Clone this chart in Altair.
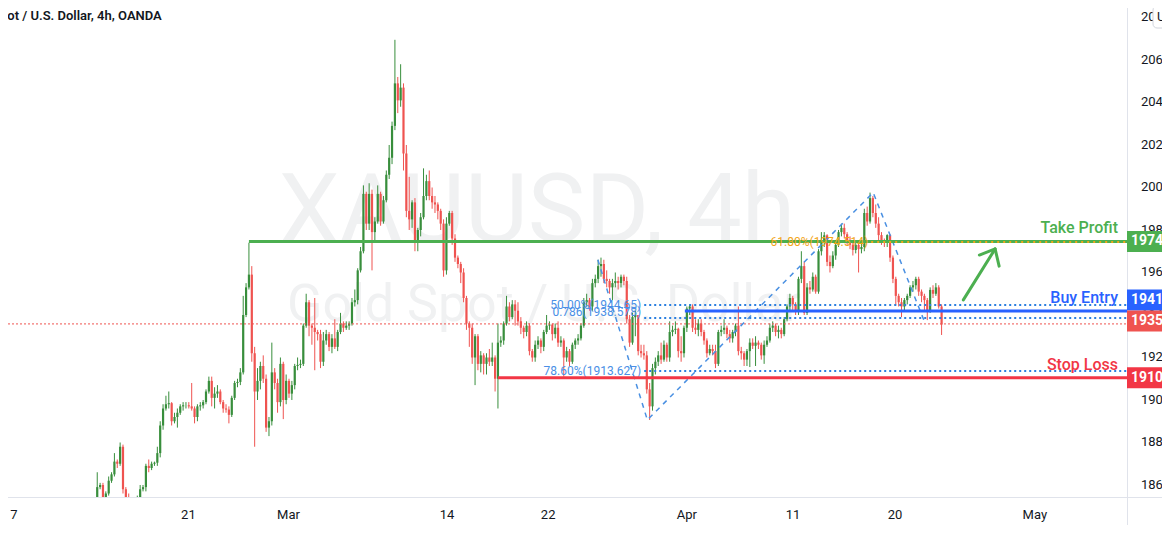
import altair as alt
import pandas as pd

# ---------------- data ----------------
first_open = 1852.0
closes = [
    1859, 1860, 1854, 1856, 1862, 1865, 1871, 1870, 1878, 1858,
    1853, 1850, 1846, 1848, 1852, 1858, 1859, 1869, 1868, 1870,
    1870.5, 1875, 1888, 1896, 1898, 1898.5, 1890, 1892, 1894, 1897,
    1897.5, 1897.5, 1897, 1896, 1892, 1897, 1897.5, 1899, 1904, 1909, 1901,
    1903, 1904, 1899, 1896, 1895.5, 1893, 1901, 1908, 1908.5, 1913,
    1940, 1953, 1959, 1922, 1904, 1909, 1916, 1910, 1887, 1890,
    1913, 1908, 1899, 1917, 1900, 1909, 1903, 1907, 1916, 1916.5, 1917,
    1935, 1946, 1935, 1934, 1932, 1931, 1918, 1928, 1931, 1925,
    1929, 1925, 1932, 1936, 1934, 1935, 1936, 1946, 1947, 1961, 1970,
    1997, 1983, 1997, 1979, 1984, 1997, 1984, 1994, 2006, 2014,
    2029, 2049, 2041, 2047, 2016, 1989, 1985, 1993, 1974, 1980,
    1986, 1996, 2003, 1996, 1993, 1992, 1989, 1983, 1961, 1983,
    1988, 1976, 1967, 1964, 1960, 1948, 1936, 1934,
    1920, 1930, 1917, 1921, 1917, 1920, 1918, 1920, 1910, 1927,
    1928, 1936, 1944, 1939, 1945, 1942, 1937, 1934, 1932, 1935,
    1923, 1920, 1926, 1928, 1925, 1932, 1935, 1935.5, 1931, 1934,
    1927, 1928, 1920, 1923, 1918, 1926, 1928, 1929, 1935, 1946,
    1947, 1944, 1955, 1957, 1963, 1964, 1957, 1956, 1953, 1955,
    1956, 1955, 1958, 1956, 1938, 1927, 1939, 1940, 1923, 1922,
    1921, 1905, 1897, 1915, 1918, 1921, 1919, 1926, 1920, 1932,
    1933, 1933.5, 1923, 1922, 1934, 1943, 1944, 1934, 1933, 1936,
    1932, 1928, 1922, 1924, 1923, 1917, 1932, 1933, 1934, 1931,
    1929, 1932, 1935, 1923, 1922, 1919, 1923, 1927, 1925.5, 1927,
    1926, 1921, 1926, 1928, 1934, 1935, 1932, 1933, 1931, 1938,
    1944, 1948, 1945, 1942, 1957, 1963, 1941, 1953, 1952, 1958,
    1951, 1970, 1974, 1977.5, 1965, 1963, 1968, 1973, 1979, 1981,
    1978, 1975, 1973, 1970.6, 1973, 1971, 1972, 1988, 1984, 1995,
    1988, 1983, 1977.6, 1975, 1974, 1977.6, 1967, 1957, 1949, 1946,
    1944, 1947, 1949, 1953, 1954, 1957, 1951, 1949, 1947, 1942,
    1951.8, 1950, 1953, 1944, 1935.5,
]
highs = [
    1866, 1861, 1861, 1857, 1864, 1866, 1875, 1872, 1880, 1879,
    1859, 1856, 1851, 1854, 1855, 1860, 1860, 1870, 1872, 1871,
    1871, 1878, 1890, 1898, 1902, 1904, 1899, 1894, 1896, 1898,
    1899, 1899, 1899, 1908, 1897, 1898, 1899, 1900, 1905, 1911, 1911,
    1906, 1907, 1905, 1900, 1898, 1897, 1902, 1909, 1910, 1915,
    1949, 1955, 1974, 1963, 1925, 1915, 1918, 1921, 1912, 1892,
    1927, 1915, 1910, 1920, 1918, 1912, 1910, 1909, 1917, 1920, 1919,
    1936, 1950, 1947, 1936, 1948, 1933, 1933, 1932, 1933, 1932,
    1931, 1938, 1933, 1941, 1937, 1937, 1937, 1948, 1952, 1962, 1972,
    2001, 1998, 2002, 1999, 1986, 2001, 1998, 1996, 2008, 2020,
    2031, 2069.5, 2052, 2058, 2049, 2020, 2005, 1994, 1995, 1981,
    1988, 2009, 2006, 2008, 2000, 1996, 1993, 1990, 1985, 1986,
    1989, 1989, 1978, 1968, 1965, 1962, 1949, 1937,
    1936, 1931, 1931, 1923, 1922, 1922, 1924, 1927, 1921, 1936,
    1930, 1937, 1949, 1946, 1947, 1947, 1946, 1939, 1935, 1937,
    1936, 1924, 1928, 1930, 1929, 1933, 1940, 1937, 1936, 1936,
    1937, 1930, 1929, 1925, 1924, 1927, 1929, 1931, 1936, 1948,
    1950, 1948, 1957, 1959, 1966, 1967, 1966, 1961, 1957, 1957,
    1960, 1958, 1959, 1959, 1958, 1940, 1941, 1942, 1940, 1926,
    1926, 1923, 1908, 1917, 1920, 1923, 1927, 1928, 1927, 1937,
    1935, 1937, 1934, 1930, 1935, 1944, 1945, 1945, 1938, 1938,
    1938, 1933, 1929, 1926, 1926, 1926, 1933, 1935, 1938, 1935,
    1933, 1933, 1936, 1944, 1925, 1923, 1924, 1929, 1929, 1930,
    1928, 1927, 1928, 1930, 1936, 1937, 1936, 1935, 1934, 1939,
    1945, 1950, 1949, 1946, 1958, 1970, 1965, 1955, 1956, 1960,
    1959, 1971, 1979, 1979, 1978, 1968, 1970, 1974, 1980, 1983,
    1983, 1979, 1977, 1975, 1975, 1974, 1974, 1990, 1991, 1997.6,
    1996, 1992, 1986, 1979, 1976, 1978, 1978, 1968, 1958, 1950,
    1948, 1948, 1950, 1954, 1956, 1958, 1958, 1952, 1950, 1948,
    1953, 1954, 1955, 1954, 1945,
]
lows = [
    1850, 1858, 1851, 1852, 1855, 1861, 1864, 1868, 1869, 1856,
    1848, 1845, 1840, 1843, 1846, 1850, 1857, 1857, 1866, 1867,
    1869, 1869, 1873, 1886, 1895, 1896, 1888, 1889, 1887, 1893,
    1895, 1896, 1896, 1895, 1889, 1890, 1895, 1896, 1898, 1903, 1897,
    1896, 1901, 1898, 1894, 1894, 1889, 1892, 1900, 1906, 1907,
    1912, 1939, 1952, 1918, 1878, 1900, 1905, 1908, 1885, 1883,
    1888, 1905, 1894, 1897, 1891, 1898, 1901, 1900, 1905, 1914, 1915,
    1916, 1934, 1930, 1926, 1914, 1928, 1915, 1916, 1926, 1923,
    1922, 1924, 1923, 1931, 1932, 1933, 1933, 1935, 1944, 1945, 1960,
    1969, 1980, 1980, 1961, 1975, 1983, 1982, 1983, 1993, 2004,
    2011, 2027, 2035, 2038, 2008, 1986, 1980, 1981, 1970, 1970,
    1977, 1985, 1994, 1994, 1990, 1988, 1985, 1980, 1958, 1959,
    1982, 1973, 1965, 1962, 1955, 1946, 1933, 1925,
    1917, 1907, 1914, 1913, 1912, 1912, 1916, 1916, 1904, 1896,
    1925, 1926, 1935, 1937, 1938, 1935, 1935, 1931, 1929, 1930,
    1921, 1918, 1918, 1924, 1922, 1923, 1931, 1933, 1928, 1929,
    1925, 1925, 1911, 1918, 1916, 1917, 1924, 1926, 1928, 1934,
    1944, 1942, 1942, 1953, 1955, 1958, 1955, 1953, 1950, 1947,
    1953, 1952, 1953, 1954, 1936, 1925, 1926, 1930, 1921, 1920,
    1919, 1903, 1890.6, 1895, 1912, 1916, 1917, 1918, 1918, 1918,
    1930, 1931, 1920, 1918, 1920, 1932, 1940, 1932, 1931, 1930,
    1930, 1926, 1920, 1921, 1921, 1915, 1916, 1930, 1931, 1929,
    1927, 1927, 1930, 1921, 1919, 1916, 1916, 1915.5, 1924, 1916,
    1924, 1919, 1917, 1925, 1927, 1932, 1930, 1929, 1929, 1930,
    1937, 1942, 1942, 1940, 1940, 1955, 1940, 1940, 1950, 1951,
    1950, 1950, 1968, 1972, 1963, 1960, 1962, 1966, 1972, 1977,
    1976, 1973, 1971, 1968, 1969, 1960, 1969, 1970, 1982, 1983,
    1986, 1981, 1975, 1973, 1972, 1972, 1965, 1955, 1944.5, 1944,
    1939, 1942, 1945, 1948, 1951, 1952, 1949, 1946, 1942, 1937.6,
    1941, 1948, 1949, 1943, 1930.6,
]

# x-axis tick labels (candle-index positions) and price ticks
tick_pos = [-29.09, 31.86, 66.83, 122.23, 157.55, 206.02, 243.07, 278.74, 327.56]
tick_txt = ["7", "21", "Mar", "14", "22", "Apr", "11", "20", "May"]
price_ticks = [1860, 1880, 1900, 1920, 1940, 1960, 1980, 2000, 2020, 2040, 2060, 2080]

# annotations
tp_price, tp_start = 1974.6, 53
buy_price, buy_start = 1941.9, 205.3
sl_price, sl_start = 1910.5, 140
last_price = 1935.8
fib_prices = [1944.65, 1938.578, 1913.627]
fib_labels = ["50.00%(1944.65)", "0.786(1938.578)", "78.60%(1913.627)"]
fib_start = 191.1
fib618_price, fib618_start, fib618_label = 1974.4, 270.4, "61.80%(1974.514)"
zig_i = [174.9, 192.2, 271.1, 288.8]
zig_p = [1966.0, 1890.6, 1997.6, 1937.6]
arrow_i = [302.6, 313.7, 308.2, 313.7, 315.1]
arrow_p = [1947.1, 1971.1, 1968.2, 1971.1, 1963.0]
arrow_seg = ["shaft", "shaft", "head", "head", "head"]
badge_price = [1974.6, 1941.9, 1935.8, 1910.5]
badge_text = ["1974", "1941", "1935", "1910"]
badge_color = ["#4caf50", "#2962ff", "#ef5350", "#f23645"]
badge_shift = [0, -11, -3, 0]

# ---------------- build ----------------
GREEN, RED = "#388e3c", "#ef5350"
FONT = "Roboto"
W, H = 1119, 489
opens = [first_open] + closes[:-1]
n = len(closes)
candles = pd.DataFrame({
    "i": list(range(n)), "o": opens, "h": highs, "l": lows, "c": closes,
    "dir": ["up" if c >= o else "down" for o, c in zip(opens, closes)],
})
xs = alt.Scale(domain=[-29.43, 358.03], nice=False, zero=False)
ys = alt.Scale(domain=[1854.35, 2084.47], nice=False, zero=False)
col = alt.Color("dir:N", scale=alt.Scale(domain=["up", "down"], range=[GREEN, RED]), legend=None)


def X(f):
    return alt.X(f, scale=xs, axis=None)


def Y(f):
    return alt.Y(f, scale=ys, axis=None)


layers = []
# watermark
layers.append(alt.Chart(pd.DataFrame({"t": ["XAUUSD, 4h"]})).mark_text(
    fontSize=97, font=FONT, color="#f0f1f2", align="center", baseline="middle").encode(
    text="t:N", x=alt.value(529), y=alt.value(205)))
layers.append(alt.Chart(pd.DataFrame({"t": ["Gold Spot / U.S. Dollar"]})).mark_text(
    fontSize=52, font=FONT, color="#f0f1f2", align="center", baseline="middle").encode(
    text="t:N", x=alt.value(536), y=alt.value(297)))

# candles
base = alt.Chart(candles)
layers.append(base.mark_rule(strokeWidth=1, clip=True).encode(
    x=X("i:Q"), y=Y("l:Q"), y2="h:Q", color=col))
layers.append(base.mark_bar(width=2.2, clip=True).encode(
    x=X("i:Q"), y=Y("o:Q"), y2="c:Q", color=col))

# current price dotted line
layers.append(alt.Chart(pd.DataFrame({"p": [last_price]})).mark_rule(
    color="#ef5350", strokeWidth=1, strokeDash=[2, 2]).encode(
    y=Y("p:Q"), x=alt.value(0), x2=alt.value(W)))

# fib zigzag
zig = pd.DataFrame({"i": zig_i, "p": zig_p, "k": list(range(len(zig_i)))})
layers.append(alt.Chart(zig).mark_line(color="#4a90e2", strokeWidth=1.5, strokeDash=[5, 5]).encode(
    x=X("i:Q"), y=Y("p:Q"), order="k:Q"))

# fib levels (blue, dotted)
fib = pd.DataFrame({"p": fib_prices, "lab": fib_labels, "s": [fib_start] * len(fib_prices)})
layers.append(alt.Chart(fib).mark_rule(color="#2a7fe0", strokeWidth=2, strokeDash=[2, 3]).encode(
    x=X("s:Q"), x2=alt.value(W), y=Y("p:Q")))
for k in range(len(fib_prices)):
    layers.append(alt.Chart(fib.iloc[[k]]).mark_text(
        align="right", baseline="middle", dx=-3, dy=(-6 if k == 1 else 0), fontSize=12,
        font=FONT, color="#4a8fe6").encode(x=X("s:Q"), y=Y("p:Q"), text="lab:N"))

# take profit / buy entry / stop loss
for price, start, color in [(tp_price, tp_start, "#4caf50"), (buy_price, buy_start, "#2962ff"),
                            (sl_price, sl_start, "#f23645")]:
    lv = pd.DataFrame({"p": [price], "s": [start]})
    layers.append(alt.Chart(lv).mark_rule(color=color, strokeWidth=3).encode(
        x=X("s:Q"), x2=alt.value(W), y=Y("p:Q")))

# 61.8 % orange dotted
f6 = pd.DataFrame({"p": [fib618_price], "s": [fib618_start], "lab": [fib618_label]})
layers.append(alt.Chart(f6).mark_rule(color="#f2a516", strokeWidth=2, strokeDash=[2, 4]).encode(
    x=X("s:Q"), x2=alt.value(W), y=Y("p:Q")))
layers.append(alt.Chart(f6).mark_text(align="right", baseline="middle", dx=-3, fontSize=12,
                                      font=FONT, color="#f2a516").encode(
    x=X("s:Q"), y=Y("p:Q"), text="lab:N"))

# right-side labels
lab = pd.DataFrame({"p": [tp_price, buy_price, sl_price], "t": ["Take Profit", "Buy Entry", "Stop Loss"],
                    "c": ["#4caf50", "#2962ff", "#f23645"]})
layers.append(alt.Chart(lab).mark_text(align="right", baseline="middle", dy=-13, fontSize=16,
                                       font=FONT, fontWeight=500).encode(
    x=alt.value(1110), y=Y("p:Q"), text="t:N", color=alt.Color("c:N", scale=None)))

# green arrow
arr = pd.DataFrame({"i": arrow_i, "p": arrow_p, "seg": arrow_seg, "k": list(range(len(arrow_i)))})
layers.append(alt.Chart(arr).mark_line(color="#4caf50", strokeWidth=3, strokeCap="round",
                                       strokeJoin="round").encode(
    x=X("i:Q"), y=Y("p:Q"), detail="seg:N", order="k:Q"))

# frame lines
layers.append(alt.Chart(pd.DataFrame({"a": [0]})).mark_rule(color="#e0e3eb", strokeWidth=1).encode(
    x=alt.value(W + 0.5), y=alt.value(-10), y2=alt.value(H + 40)))
layers.append(alt.Chart(pd.DataFrame({"a": [0]})).mark_rule(color="#e0e3eb", strokeWidth=1).encode(
    y=alt.value(H + 0.5), x=alt.value(-10), x2=alt.value(W + 50)))

# axis labels (drawn through the scales)
yl = pd.DataFrame({"p": price_ticks, "t": [str(v) for v in price_ticks]})
layers.append(alt.Chart(yl).mark_text(align="left", baseline="middle", fontSize=13, font=FONT,
                                      color="#131722").encode(
    x=alt.value(W + 14), y=Y("p:Q"), text="t:N"))
xl = pd.DataFrame({"i": tick_pos, "t": tick_txt})
layers.append(alt.Chart(xl).mark_text(align="center", baseline="middle", fontSize=13, font=FONT,
                                      color="#131722").encode(
    x=X("i:Q"), y=alt.value(H + 18), text="t:N"))

# price badges
for k in range(len(badge_price)):
    bd = pd.DataFrame({"p": [badge_price[k]], "t": [badge_text[k]]})
    layers.append(alt.Chart(bd).mark_tick(orient="horizontal", size=52, thickness=21,
                                          color=badge_color[k], opacity=1).encode(
        x=alt.value(W + 26), y=Y("p:Q"), yOffset=alt.value(badge_shift[k])))
    layers.append(alt.Chart(bd).mark_text(align="left", baseline="middle", fontSize=14,
                                          fontWeight="bold", font=FONT, color="white",
                                          dy=badge_shift[k]).encode(
        x=alt.value(W + 4), y=Y("p:Q"), text="t:N"))

# title & currency button
layers.append(alt.Chart(pd.DataFrame({"t": ["pot / U.S. Dollar, 4h, OANDA"]})).mark_text(
    align="left", baseline="middle", fontSize=13, fontWeight=600, font=FONT, color="#131722").encode(
    text="t:N", x=alt.value(-8), y=alt.value(8)))
layers.append(alt.Chart(pd.DataFrame({"a": [0]})).mark_rect(
    fill="white", stroke="#d1d4dc", strokeWidth=1, cornerRadius=4).encode(
    x=alt.value(W + 26), x2=alt.value(W + 60), y=alt.value(-2), y2=alt.value(20)))
layers.append(alt.Chart(pd.DataFrame({"t": ["USD"]})).mark_text(
    align="left", baseline="middle", fontSize=13, font=FONT, color="#131722").encode(
    text="t:N", x=alt.value(W + 30), y=alt.value(9)))

chart = alt.layer(*layers).properties(
    width=W, height=H, autosize=alt.AutoSizeParams(type="none"),
    padding={"left": 0, "top": 0, "right": 35, "bottom": 28},
).configure_view(stroke=None)

chart.save("out.html", embed_options={"renderer": "svg", "actions": False})
